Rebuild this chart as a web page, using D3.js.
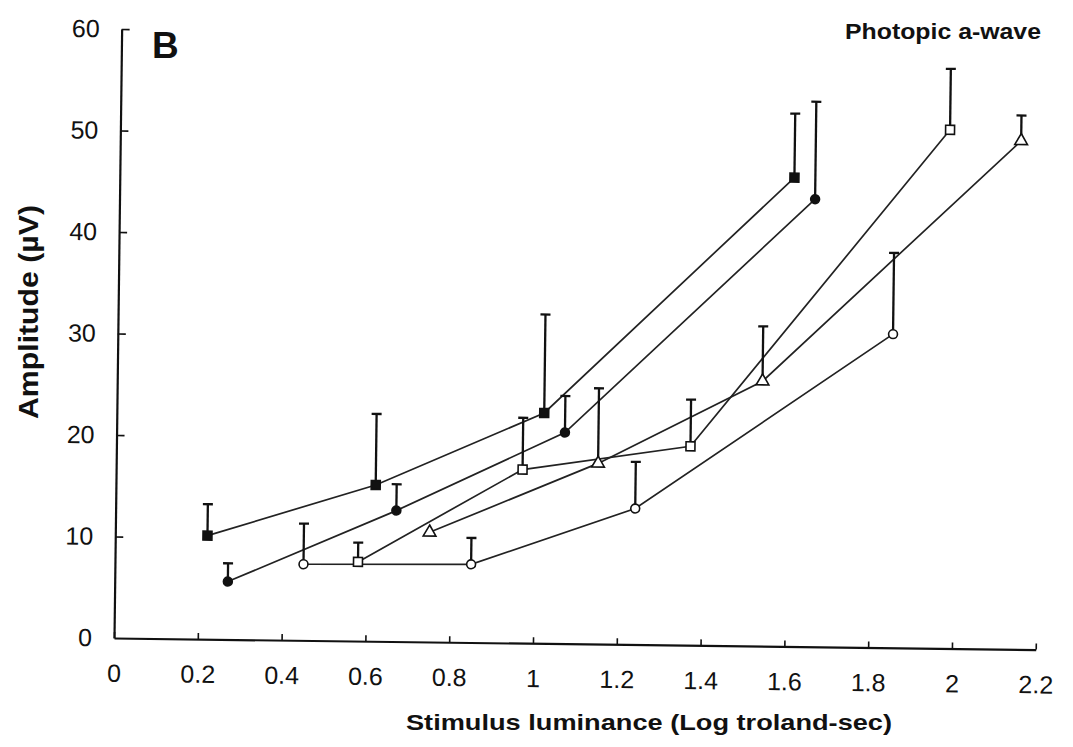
<!DOCTYPE html>
<html>
<head>
<meta charset="utf-8">
<script src="https://cdn.jsdelivr.net/npm/d3@7"></script>
<style>
  html, body { margin: 0; padding: 0; background: #fff; }
  svg { display: block; }
</style>
</head>
<body>
<script>
// 坐标轴刻度
const xTicks = [0, 0.2, 0.4, 0.6, 0.8, 1, 1.2, 1.4, 1.6, 1.8, 2, 2.2];
const xTickLabels = ["0", "0.2", "0.4", "0.6", "0.8", "1", "1.2", "1.4", "1.6", "1.8", "2", "2.2"];
const yTicks = [0, 10, 20, 30, 40, 50, 60];

// 五组数据：x(对数亮度), y(振幅), err(误差棒上沿)
const filledSquareX = [0.22, 0.62, 1.02, 1.61];
const filledSquareY = [10.2, 15.4, 22.7, 46.2];
const filledSquareErr = [3.1, 7.0, 9.7, 6.3];

const filledCircleX = [0.27, 0.67, 1.07, 1.66];
const filledCircleY = [5.7, 12.9, 20.8, 44.1];
const filledCircleErr = [1.8, 2.6, 3.6, 9.6];

const openCircleX = [0.45, 0.85, 1.24, 1.85];
const openCircleY = [7.5, 7.7, 13.4, 30.9];
const openCircleErr = [4.0, 2.6, 4.6, 8.0];

const openSquareX = [0.58, 0.97, 1.37, 1.98];
const openSquareY = [7.8, 17.1, 19.6, 51.1];
const openSquareErr = [1.9, 5.1, 4.6, 6.0];

const triangleX = [0.75, 1.15, 1.54, 2.15];
const triangleY = [10.8, 17.8, 26.1, 50.1];
const triangleErr = [0, 7.4, 5.4, 2.5];

const series = [
    { xs: filledSquareX, ys: filledSquareY, errs: filledSquareErr, shape: "square", fill: "#111" },
    { xs: filledCircleX, ys: filledCircleY, errs: filledCircleErr, shape: "circle", fill: "#111" },
    { xs: openCircleX, ys: openCircleY, errs: openCircleErr, shape: "circle", fill: "#fff" },
    { xs: openSquareX, ys: openSquareY, errs: openSquareErr, shape: "square", fill: "#fff" },
    { xs: triangleX, ys: triangleY, errs: triangleErr, shape: "triangle", fill: "#fff" }
];

const W = 1073, H = 747;
const ox = 114, oy = 638;   // 原点
const font = "'Liberation Sans', Arial, Helvetica, sans-serif";

const x = d3.scaleLinear().domain([0, 2.2]).range([ox, ox + 2.2 * 419]);
const y = d3.scaleLinear().domain([0, 60]).range([oy, oy - 609]);

const svg = d3.select("body").append("svg")
    .attr("width", W)
    .attr("height", H);

// 扫描图略微倾斜，整体旋转一点
const plot = svg.append("g")
    .attr("transform", `rotate(0.72, ${ox}, ${oy})`);

// x 轴
const xAxis = plot.append("g")
    .attr("transform", `translate(0, ${oy})`)
    .call(d3.axisBottom(x)
        .tickValues(xTicks)
        .tickFormat((d, i) => xTickLabels[i])
        .tickSizeInner(-6)
        .tickSizeOuter(0)
        .tickPadding(26));

// y 轴
const yAxis = plot.append("g")
    .attr("transform", `translate(${ox}, 0)`)
    .call(d3.axisLeft(y)
        .tickValues(yTicks)
        .tickSizeInner(-8)
        .tickSizeOuter(0)
        .tickPadding(22));

[xAxis, yAxis].forEach(g => {
    g.attr("font-family", font).attr("font-size", 25);
    g.select(".domain").attr("stroke", "#111").attr("stroke-width", 2.2);
    g.selectAll(".tick line").attr("stroke", "#111").attr("stroke-width", 1.6);
    g.selectAll(".tick text").attr("fill", "#111");
});
yAxis.selectAll(".tick").filter(d => d === 0).select("line").remove();

// 折线
const line = d3.line().x(d => x(d[0])).y(d => y(d[1]));
series.forEach(s => {
    const pts = s.xs.map((v, i) => [v, s.ys[i]]);
    plot.append("path")
        .attr("d", line(pts))
        .attr("fill", "none")
        .attr("stroke", "#222")
        .attr("stroke-width", 1.7);
});

// 误差棒（只画上半部分）
series.forEach(s => {
    const g = plot.append("g").attr("stroke", "#111").attr("stroke-width", 2.3);
    s.xs.forEach((v, i) => {
        if (!s.errs[i]) return;
        const cx = x(v), top = y(s.ys[i] + s.errs[i]);
        g.append("line")
            .attr("x1", cx).attr("x2", cx)
            .attr("y1", y(s.ys[i])).attr("y2", top);
        g.append("line")
            .attr("x1", cx - 5).attr("x2", cx + 5)
            .attr("y1", top).attr("y2", top);
    });
});

// 数据点
const symbolType = { square: d3.symbolSquare, circle: d3.symbolCircle, triangle: d3.symbolTriangle };
const symbolSize = { square: 80, circle: 62, triangle: 70 };
series.forEach(s => {
    const sym = d3.symbol().type(symbolType[s.shape]).size(symbolSize[s.shape]);
    plot.append("g")
        .selectAll("path")
        .data(s.xs.map((v, i) => [v, s.ys[i]]))
        .enter()
        .append("path")
        .attr("transform", d => `translate(${x(d[0])}, ${y(d[1])})`)
        .attr("d", sym)
        .attr("fill", s.fill)
        .attr("stroke", "#111")
        .attr("stroke-width", 1.6);
});

// 文字
svg.append("text")
    .attr("x", 152)
    .attr("y", 58)
    .attr("font-family", font)
    .attr("font-size", 37)
    .attr("font-weight", "bold")
    .attr("fill", "#111")
    .text("B");

svg.append("text")
    .attr("x", 845)
    .attr("y", 39)
    .attr("font-family", font)
    .attr("font-size", 22)
    .attr("font-weight", "bold")
    .attr("fill", "#111")
    .attr("textLength", 196)
    .attr("lengthAdjust", "spacingAndGlyphs")
    .text("Photopic a-wave");

svg.append("text")
    .attr("x", 649)
    .attr("y", 730)
    .attr("text-anchor", "middle")
    .attr("font-family", font)
    .attr("font-size", 22)
    .attr("font-weight", "bold")
    .attr("fill", "#111")
    .attr("textLength", 486)
    .attr("lengthAdjust", "spacingAndGlyphs")
    .text("Stimulus luminance (Log troland-sec)");

svg.append("text")
    .attr("transform", "translate(38, 312) rotate(-90)")
    .attr("text-anchor", "middle")
    .attr("font-family", font)
    .attr("font-size", 27)
    .attr("font-weight", "bold")
    .attr("fill", "#111")
    .attr("textLength", 214)
    .attr("lengthAdjust", "spacingAndGlyphs")
    .text("Amplitude (µV)");
</script>
</body>
</html>
